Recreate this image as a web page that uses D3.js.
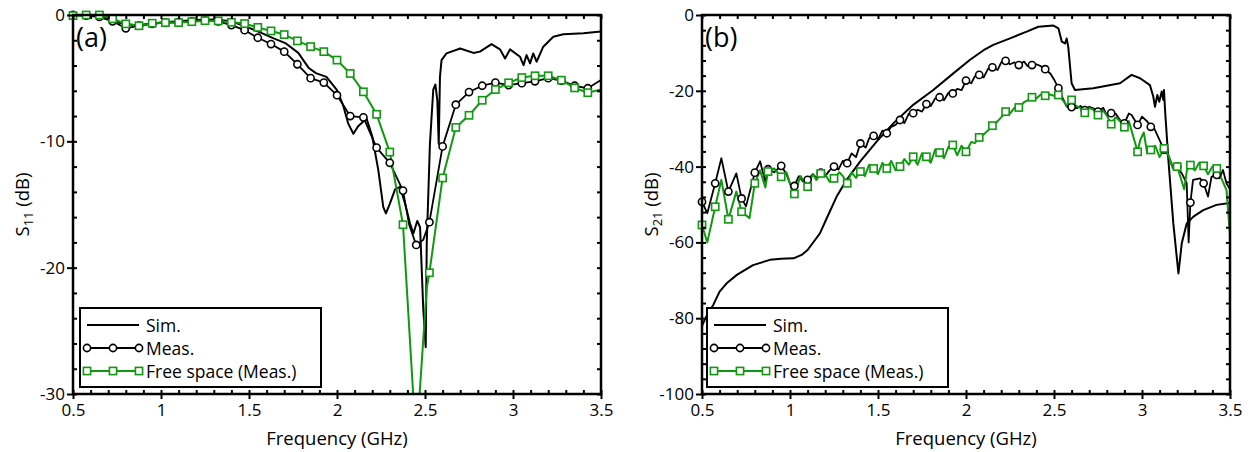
<!DOCTYPE html>
<html><head><meta charset="utf-8">
<script src="https://cdn.jsdelivr.net/npm/d3@7"></script>
<style>
body{margin:0;background:#fff}
svg{display:block}
text{font-family:"Open Sans",sans-serif;fill:#000}
</style>
</head><body><svg id="c" width="1252" height="452"></svg>
<script>
const freqTicks = [0.5, 1, 1.5, 2, 2.5, 3, 3.5];
const s11Ticks = [0, -10, -20, -30];
const s21Ticks = [0, -20, -40, -60, -80, -100];
const legendLabels = ["Sim.", "Meas.", "Free space (Meas.)"];
const panelTags = ["(a)", "(b)"];

const simS11 = [[0.5,0],[0.6,-0.05],[0.7,-0.3],[0.75,-0.55],[0.8,-0.75],[0.85,-0.8],[0.9,-0.75],[1.0,-0.6],[1.1,-0.5],[1.2,-0.4],[1.3,-0.35],[1.4,-0.5],[1.48,-0.9],[1.56,-1.35],[1.64,-1.85],[1.71,-2.25],[1.78,-3.0],[1.84,-4.2],[1.88,-4.6],[1.94,-4.9],[2.0,-5.95],[2.036,-7.2],[2.064,-8.6],[2.093,-9.4],[2.12,-8.8],[2.168,-8.2],[2.2,-9.6],[2.235,-12.3],[2.263,-15.2],[2.278,-15.7],[2.3,-14.95],[2.33,-13.8],[2.358,-13.6],[2.386,-14.9],[2.415,-16.5],[2.434,-17.3],[2.456,-16.3],[2.472,-16.8],[2.49,-23.2],[2.504,-26.3],[2.51,-18],[2.528,-10.2],[2.547,-5.9],[2.559,-5.5],[2.57,-6.75],[2.578,-10.2],[2.585,-4.9],[2.594,-3.57],[2.622,-3.04],[2.7,-2.65],[2.775,-3.0],[2.812,-2.9],[2.878,-2.3],[2.926,-2.72],[2.955,-3.44],[2.983,-2.72],[3.04,-3.31],[3.06,-3.97],[3.077,-3.17],[3.097,-3.83],[3.115,-3.04],[3.134,-3.7],[3.172,-2.51],[3.229,-1.72],[3.286,-1.53],[3.4,-1.45],[3.5,-1.3]];

const measS11 = [[0.5,0],[0.575,-0.05],[0.65,-0.15],[0.725,-0.5],[0.8,-1.05],[0.875,-0.85],[0.95,-0.7],[1.025,-0.6],[1.1,-0.6],[1.175,-0.5],[1.25,-0.45],[1.325,-0.5],[1.4,-0.8],[1.475,-1.2],[1.55,-1.8],[1.625,-2.3],[1.7,-2.9],[1.775,-3.9],[1.85,-5.0],[1.925,-5.35],[2.0,-6.35],[2.075,-8.0],[2.15,-8.1],[2.225,-10.5],[2.3,-11.7],[2.375,-13.9],[2.41,-16.6],[2.45,-18.2],[2.49,-17.8],[2.525,-16.4],[2.6,-10.4],[2.675,-7.1],[2.75,-6.1],[2.825,-5.6],[2.9,-5.35],[2.975,-5.55],[3.05,-5.4],[3.125,-5.25],[3.2,-5.0],[3.275,-5.2],[3.35,-5.6],[3.425,-5.8],[3.5,-5.15]];

const freeS11 = [[0.5,-0.05],[0.575,0],[0.65,0],[0.725,-0.3],[0.8,-0.7],[0.875,-0.85],[0.95,-0.65],[1.025,-0.6],[1.1,-0.6],[1.175,-0.53],[1.25,-0.45],[1.325,-0.47],[1.4,-0.58],[1.475,-0.68],[1.55,-0.98],[1.625,-1.26],[1.7,-1.55],[1.775,-2.05],[1.85,-2.5],[1.925,-2.9],[2.0,-3.57],[2.075,-4.63],[2.15,-6.08],[2.225,-7.86],[2.3,-10.85],[2.375,-16.6],[2.45,-34],[2.51,-21.6],[2.525,-20.4],[2.6,-12.9],[2.675,-8.9],[2.75,-7.94],[2.825,-6.75],[2.9,-5.9],[2.975,-5.37],[3.05,-4.95],[3.125,-4.81],[3.2,-4.81],[3.275,-5.16],[3.35,-5.77],[3.425,-6.15],[3.5,-5.9]];

const simS21 = [[0.5,-82],[0.53,-79],[0.564,-76.5],[0.6,-73],[0.64,-70.8],[0.7,-68.5],[0.79,-66],[0.886,-64.6],[0.95,-64.3],[1.02,-64.2],[1.066,-63.3],[1.1,-62],[1.14,-59.5],[1.17,-57.6],[1.208,-53.7],[1.265,-47.9],[1.322,-43.5],[1.398,-38.7],[1.492,-33.4],[1.587,-28.6],[1.7,-23.7],[1.814,-19.8],[1.928,-15.4],[2.023,-11.8],[2.1,-9.3],[2.155,-7.9],[2.25,-6.15],[2.345,-4.4],[2.411,-3.1],[2.497,-2.8],[2.525,-3.5],[2.544,-7.0],[2.563,-7.5],[2.572,-6.2],[2.581,-8.4],[2.6,-18],[2.619,-19.8],[2.723,-19.3],[2.875,-18],[2.941,-15.8],[2.989,-16.7],[3.045,-18.5],[3.064,-21.5],[3.074,-24.2],[3.087,-21.1],[3.098,-22.9],[3.112,-20.2],[3.121,-22.4],[3.125,-19.8],[3.131,-25.1],[3.15,-38.3],[3.178,-55],[3.207,-68.2],[3.226,-60.2],[3.254,-55],[3.292,-53.2],[3.348,-51.5],[3.423,-50.1],[3.5,-49.6]];

const measS21 = [[0.5,-49.3],[0.53,-52.3],[0.575,-44.4],[0.61,-37.8],[0.65,-46.6],[0.695,-41.8],[0.725,-48.4],[0.75,-50.5],[0.8,-41.6],[0.83,-38.6],[0.86,-44],[0.875,-40.7],[0.91,-41.5],[0.95,-39.8],[0.98,-42],[1.0,-44.5],[1.025,-45.1],[1.05,-42.5],[1.075,-44],[1.1,-43.5],[1.13,-42],[1.15,-43],[1.175,-41.6],[1.2,-42.5],[1.225,-41],[1.25,-40],[1.275,-40.8],[1.3,-38.5],[1.325,-39.1],[1.35,-36.5],[1.375,-37.5],[1.4,-33.9],[1.43,-35],[1.45,-32.5],[1.475,-31.9],[1.5,-32.8],[1.525,-30.5],[1.55,-31.2],[1.575,-29.5],[1.6,-29],[1.625,-27.7],[1.65,-28.5],[1.675,-26],[1.7,-25.9],[1.725,-25],[1.75,-25.5],[1.775,-23.5],[1.8,-24],[1.825,-22],[1.85,-21.7],[1.875,-22.5],[1.9,-20.5],[1.925,-20.7],[1.95,-19.5],[1.975,-19.8],[2.0,-17.3],[2.03,-18],[2.05,-16.2],[2.075,-15.8],[2.1,-16.5],[2.125,-14.2],[2.15,-13.8],[2.18,-14.5],[2.2,-12.5],[2.225,-12.1],[2.25,-13],[2.275,-12.5],[2.3,-13.2],[2.33,-12.3],[2.35,-13.5],[2.375,-13.2],[2.4,-13],[2.425,-13.5],[2.45,-14.3],[2.48,-15.5],[2.5,-17],[2.525,-19.3],[2.55,-22],[2.572,-24.2],[2.6,-24.3],[2.63,-24.6],[2.65,-24],[2.675,-25.1],[2.7,-24.2],[2.723,-24.6],[2.75,-25.5],[2.78,-24.5],[2.8,-26.4],[2.825,-25.9],[2.85,-26],[2.875,-27.7],[2.9,-28.6],[2.925,-26],[2.941,-26.4],[2.975,-29],[3.0,-26.8],[3.03,-28.1],[3.05,-29.5],[3.07,-30],[3.1,-33],[3.125,-35.5],[3.15,-37],[3.17,-39.6],[3.2,-40],[3.226,-41.8],[3.254,-44.4],[3.265,-60],[3.275,-49.5],[3.29,-43.5],[3.33,-43.1],[3.35,-44.4],[3.375,-47.9],[3.395,-42.7],[3.425,-42.2],[3.44,-43.1],[3.46,-40.9],[3.48,-44.4],[3.5,-46]];

const freeS21 = [[0.5,-55.4],[0.53,-60],[0.575,-50.6],[0.61,-43.5],[0.65,-53.9],[0.695,-46.6],[0.725,-51.9],[0.77,-53.6],[0.8,-44.4],[0.83,-41],[0.86,-45.5],[0.875,-41.3],[0.91,-40.5],[0.95,-42.7],[0.98,-41.5],[1.01,-46],[1.025,-47.2],[1.06,-42.5],[1.08,-44],[1.1,-45.3],[1.13,-42],[1.15,-43.5],[1.175,-41.8],[1.2,-42],[1.225,-44],[1.25,-43.1],[1.28,-41.5],[1.3,-42.5],[1.325,-44.4],[1.35,-41.5],[1.375,-43],[1.4,-41.3],[1.425,-42.5],[1.45,-39.5],[1.475,-40.5],[1.5,-42],[1.525,-39],[1.55,-40.5],[1.575,-38.5],[1.6,-41],[1.625,-40],[1.65,-38],[1.675,-39.5],[1.7,-37.4],[1.725,-39.5],[1.75,-36.5],[1.775,-37.4],[1.8,-39],[1.825,-35.5],[1.85,-36.3],[1.875,-37.8],[1.9,-34.8],[1.925,-34.3],[1.95,-37],[1.975,-34.5],[2.0,-36.1],[2.03,-33.5],[2.05,-33.8],[2.075,-32.3],[2.1,-31.5],[2.125,-30.5],[2.15,-29.2],[2.18,-28],[2.2,-27],[2.225,-25.5],[2.25,-26],[2.275,-24.5],[2.3,-24.4],[2.33,-23],[2.35,-22.5],[2.375,-21.7],[2.4,-22],[2.425,-21],[2.45,-21.3],[2.48,-21],[2.5,-21.3],[2.525,-21.1],[2.55,-22.5],[2.575,-24],[2.6,-22.4],[2.625,-24],[2.65,-24.5],[2.675,-25.8],[2.7,-24.5],[2.725,-25],[2.75,-26.4],[2.775,-25],[2.8,-26.5],[2.825,-28.8],[2.85,-27],[2.875,-28],[2.9,-29.6],[2.925,-28],[2.95,-32],[2.975,-36.1],[2.99,-33],[3.01,-31],[3.03,-36.5],[3.05,-35.6],[3.075,-34.5],[3.1,-37.5],[3.125,-35.2],[3.15,-37],[3.175,-40.5],[3.2,-40],[3.22,-43],[3.24,-46],[3.255,-41],[3.275,-39.6],[3.3,-41],[3.325,-39],[3.35,-39.8],[3.375,-42],[3.4,-40],[3.425,-40.5],[3.45,-43],[3.48,-46.2],[3.5,-58]];

const GREEN = "#0f990f";
const svg = d3.select("#c");

function onGrid(f){ const k=(f-0.5)/0.075; return f<3.49 && Math.abs(k-Math.round(k))<0.01; }

function panel(cfg){
  const x = d3.scaleLinear().domain([0.5,3.5]).range([cfg.x0,cfg.x1]);
  const y = d3.scaleLinear().domain([cfg.ymin,0]).range([cfg.y1,cfg.y0]);
  const g = svg.append("g");
  const cid = "clip"+cfg.id, mid="mclip"+cfg.id;
  const defs = svg.append("defs");
  defs.append("clipPath").attr("id",cid).append("rect")
    .attr("x",cfg.x0).attr("y",cfg.y0).attr("width",cfg.x1-cfg.x0).attr("height",cfg.y1-cfg.y0);
  defs.append("clipPath").attr("id",mid).append("rect")
    .attr("x",cfg.x0-6).attr("y",cfg.y0-6).attr("width",cfg.x1-cfg.x0+12).attr("height",cfg.y1-cfg.y0+12);

  const line = d3.line().x(d=>x(d[0])).y(d=>y(d[1]));
  const series = [
    {data:cfg.sim, color:"#000", w:2, marker:null},
    {data:cfg.meas, color:"#000", w:1.8, marker:"circle"},
    {data:cfg.free, color:GREEN, w:2, marker:"square"}
  ];
  series.forEach(s=>{
    g.append("path").datum(s.data).attr("clip-path",`url(#${cid})`)
      .attr("fill","none").attr("stroke",s.color).attr("stroke-width",s.w)
      .attr("stroke-linejoin","round").attr("d",line);
  });
  series.forEach(s=>{
    if(!s.marker) return;
    const pts = s.data.filter(d=>onGrid(d[0]));
    const mg = g.append("g").attr("clip-path",`url(#${mid})`);
    if(s.marker==="circle"){
      mg.selectAll("circle").data(pts).join("circle")
        .attr("cx",d=>x(d[0])).attr("cy",d=>y(d[1])).attr("r",3.6)
        .attr("fill","#fff").attr("stroke","#000").attr("stroke-width",1.6);
    } else {
      mg.selectAll("rect").data(pts).join("rect")
        .attr("x",d=>x(d[0])-3.6).attr("y",d=>y(d[1])-3.6).attr("width",7.2).attr("height",7.2)
        .attr("fill","#fff").attr("stroke",GREEN).attr("stroke-width",1.6);
    }
  });

  // axes
  const minorX = d3.range(0.5,3.5001,0.1);
  const minorY = d3.range(cfg.ymin,0.001,cfg.minorStep);
  const ax = g.append("g");
  const style = sel=>{ sel.select(".domain").remove(); sel.selectAll("line").attr("stroke","#000").attr("stroke-width",2); sel.selectAll("text").attr("font-size",17).attr("font-family","Open Sans").attr("fill","#000"); };
  ax.append("g").attr("transform",`translate(0,${cfg.y1})`)
    .call(d3.axisBottom(x).tickValues(freqTicks).tickSizeInner(5).tickSizeOuter(0).tickPadding(5).tickFormat(d3.format(""))).call(style);
  ax.append("g").attr("transform",`translate(0,${cfg.y1})`)
    .call(d3.axisBottom(x).tickValues(minorX).tickSize(-4).tickSizeOuter(0).tickFormat("")).call(style);
  ax.append("g").attr("transform",`translate(0,${cfg.y0})`)
    .call(d3.axisTop(x).tickValues(minorX).tickSize(-4).tickSizeOuter(0).tickFormat("")).call(style);
  ax.append("g").attr("transform",`translate(${cfg.x0},0)`)
    .call(d3.axisLeft(y).tickValues(cfg.yTicks).tickSizeInner(6).tickSizeOuter(0).tickPadding(2).tickFormat(d3.format(""))).call(style);
  ax.append("g").attr("transform",`translate(${cfg.x0},0)`)
    .call(d3.axisLeft(y).tickValues(minorY).tickSize(-4).tickSizeOuter(0).tickFormat("")).call(style);
  ax.append("g").attr("transform",`translate(${cfg.x1},0)`)
    .call(d3.axisRight(y).tickValues(minorY).tickSize(-4).tickSizeOuter(0).tickFormat("")).call(style);
  ax.selectAll("text").text(function(){ return this.textContent.replace("−","-"); });
  g.append("rect").attr("x",cfg.x0).attr("y",cfg.y0).attr("width",cfg.x1-cfg.x0).attr("height",cfg.y1-cfg.y0)
    .attr("fill","none").attr("stroke","#000").attr("stroke-width",2.5);

  // tag
  g.append("text").attr("x",cfg.x0+3).attr("y",cfg.y0+32).attr("font-size",27).text(cfg.tag);

  // axis titles
  g.append("text").attr("x",(cfg.x0+cfg.x1)/2).attr("y",445).attr("text-anchor","middle").attr("font-size",18.5).text("Frequency (GHz)");
  const yt = g.append("text").attr("transform",`translate(${cfg.x0-44},${(cfg.y0+cfg.y1)/2}) rotate(-90)`)
    .attr("text-anchor","middle").attr("font-size",18.5);
  yt.append("tspan").text("S");
  yt.append("tspan").attr("font-size",13).attr("dy",4).text(cfg.sub);
  yt.append("tspan").attr("dy",-4).text(" (dB)");

  // legend
  const lx = cfg.x0+cfg.legendDx, ly = 308;
  const lg = g.append("g");
  lg.append("rect").attr("x",lx).attr("y",ly).attr("width",241).attr("height",79)
    .attr("fill","#fff").attr("stroke","#000").attr("stroke-width",2);
  legendLabels.forEach((lab,i)=>{
    const s = series[i], yy = ly+17+i*23;
    const x1 = lx+7, x2 = lx+59;
    lg.append("line").attr("x1",x1).attr("x2",x2).attr("y1",yy).attr("y2",yy).attr("stroke",s.color).attr("stroke-width",2);
    if(s.marker){
      [x1,(x1+x2)/2,x2].forEach(px=>{
        if(s.marker==="circle") lg.append("circle").attr("cx",px).attr("cy",yy).attr("r",3.6).attr("fill","#fff").attr("stroke","#000").attr("stroke-width",1.6);
        else lg.append("rect").attr("x",px-3.6).attr("y",yy-3.6).attr("width",7.2).attr("height",7.2).attr("fill","#fff").attr("stroke",GREEN).attr("stroke-width",1.6);
      });
    }
    lg.append("text").attr("x",lx+66).attr("y",yy+6.5).attr("font-size",17.5).text(lab);
  });
}

panel({id:"a",x0:73,x1:601,y0:15,y1:394,ymin:-30,minorStep:2,yTicks:s11Ticks,sub:"11",tag:panelTags[0],sim:simS11,meas:measS11,free:freeS11,legendDx:7});
panel({id:"b",x0:702,x1:1230,y0:15,y1:394,ymin:-100,minorStep:4,yTicks:s21Ticks,sub:"21",tag:panelTags[1],sim:simS21,meas:measS21,free:freeS21,legendDx:5});
</script>
</body></html>
